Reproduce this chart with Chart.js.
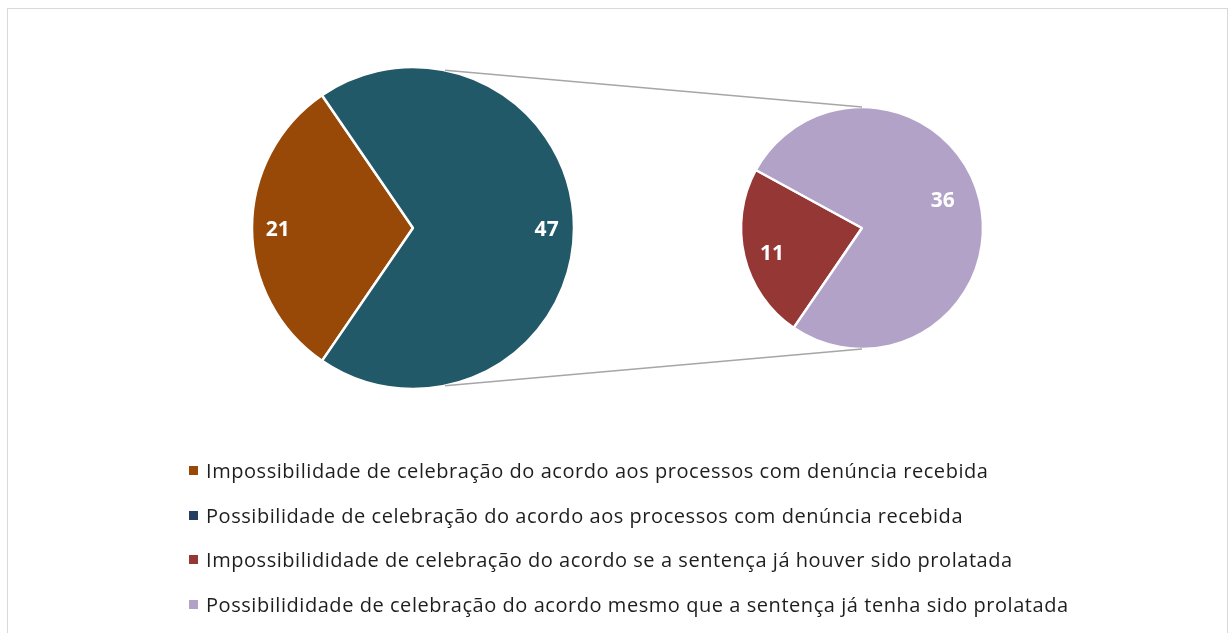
<!doctype html>
<html>
<head>
<title>Pie of pie</title>
<script src="https://cdn.jsdelivr.net/npm/chart.js@4"></script>
<style>
body { margin: 0; background: #fff; font-family: 'Open Sans', sans-serif; overflow: hidden; }
#frame { position: absolute; left: 7px; top: 8px; width: 1221px; height: 640px; border: 1px solid #d9d9d9; box-sizing: border-box; }
#left-holder { position: absolute; left: 248px; top: 63px; width: 330px; height: 330px; }
#right-holder { position: absolute; left: 737px; top: 103px; width: 250px; height: 250px; }
#lines { position: absolute; left: 0; top: 0; pointer-events: none; }
#legend { position: absolute; left: 189px; top: 448px; }
.item { height: 44.7px; display: flex; align-items: center; font-size: 20px; letter-spacing: 0.55px; color: #1e1e1e; white-space: nowrap; }
.box { width: 9px; height: 9px; margin-right: 8px; flex: none; }
</style>
</head>
<body>
<div id="frame"></div>
<div id="left-holder"><canvas id="left"></canvas></div>
<div id="right-holder"><canvas id="right"></canvas></div>
<canvas id="lines" width="1229" height="633"></canvas>
<div id="legend"></div>

<script>
// main pie
var mainLabels = ['Impossibilidade de celebração do acordo aos processos com denúncia recebida',
                  'Possibilidade de celebração do acordo aos processos com denúncia recebida'];
var mainValues = [21, 47];
var mainColors = ['#984807', '#215968'];

// secondary pie (breaks down the 47)
var subLabels = ['Impossibilididade de celebração do acordo se a sentença já houver sido prolatada',
                 'Possibilididade de celebração do acordo mesmo que a sentença já tenha sido prolatada'];
var subValues = [11, 36];
var subColors = ['#953735', '#B3A2C7'];

var legendColors = ['#984807', '#243F60', '#953735', '#B3A2C7'];

var valueLabels = {
	id: 'valueLabels',
	afterDatasetsDraw: function(chart, args, opts) {
		var ctx = chart.ctx;
		var meta = chart.getDatasetMeta(0);
		ctx.save();
		ctx.fillStyle = '#fff';
		ctx.font = 'bold 21px "Open Sans"';
		ctx.textAlign = 'center';
		ctx.textBaseline = 'middle';
		meta.data.forEach(function(arc, i) {
			var a = (arc.startAngle + arc.endAngle) / 2 + opts.shift[i] * Math.PI / 180;
			var r = arc.outerRadius * opts.factor[i];
			ctx.fillText(chart.data.datasets[0].data[i], arc.x + Math.cos(a) * r, arc.y + Math.sin(a) * r + 2);
		});
		ctx.restore();
	}
};

function makePie(id, labels, values, colors, radius, factor, shift) {
	return new Chart(document.getElementById(id), {
		type: 'pie',
		data: {
			labels: labels,
			datasets: [{
				data: values,
				backgroundColor: colors,
				borderColor: '#fff',
				borderWidth: 2.5,
				hoverOffset: 0,
				radius: radius
			}]
		},
		options: {
			animation: false,
			responsive: true,
			maintainAspectRatio: false,
			rotation: 214.4,
			layout: { padding: 0 },
			plugins: {
				legend: { display: false },
				tooltip: { enabled: false },
				valueLabels: { factor: factor, shift: shift }
			}
		},
		plugins: [valueLabels]
	});
}

var leftChart = makePie('left', mainLabels, mainValues, mainColors, 161, [0.84, 0.83], [0, 0]);
var rightChart = makePie('right', subLabels, subValues, subColors, 121, [0.77, 0.71], [-1.5, -6.5]);

// connector lines between the two pies
function drawLines() {
	var lc = document.getElementById('lines').getContext('2d');
	var lr = leftChart.canvas.getBoundingClientRect();
	var rr = rightChart.canvas.getBoundingClientRect();
	var a1 = leftChart.getDatasetMeta(0).data[1];
	var a2 = rightChart.getDatasetMeta(0).data[0];
	var x1 = lr.left + a1.x, y1 = lr.top + a1.y, r1 = a1.outerRadius;
	var x2 = rr.left + a2.x, y2 = rr.top + a2.y, r2 = a2.outerRadius;
	var ang = 78.5 * Math.PI / 180;
	lc.strokeStyle = '#a6a6a6';
	lc.lineWidth = 1.5;
	[-1, 1].forEach(function(s) {
		lc.beginPath();
		lc.moveTo(x1 + Math.cos(ang) * r1, y1 + s * Math.sin(ang) * r1);
		lc.lineTo(x2, y2 + s * r2);
		lc.stroke();
	});
}
drawLines();

// legend
var legend = document.getElementById('legend');
mainLabels.concat(subLabels).forEach(function(t, i) {
	var d = document.createElement('div');
	d.className = 'item';
	d.innerHTML = '<span class="box" style="background:' + legendColors[i] + '"></span><span></span>';
	d.lastChild.textContent = t;
	legend.appendChild(d);
});
</script>
</body>
</html>
